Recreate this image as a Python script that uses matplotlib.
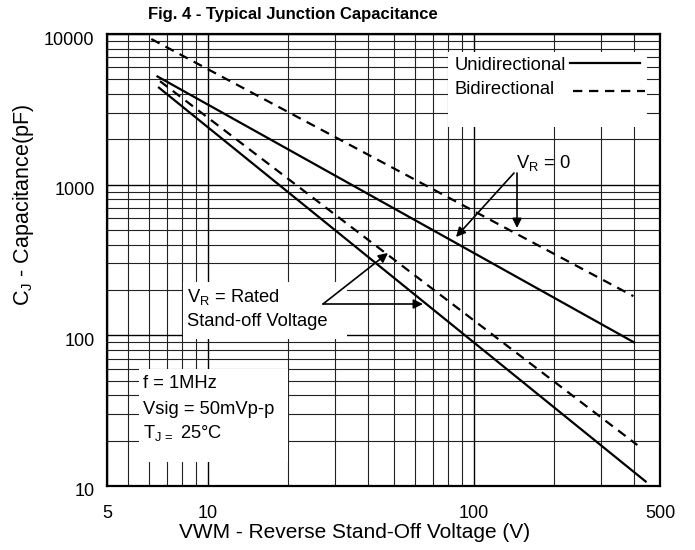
import numpy as np
import matplotlib
matplotlib.use("Agg")
import matplotlib.pyplot as plt
from matplotlib.ticker import LogLocator, NullFormatter, FixedLocator, FixedFormatter
from matplotlib.patches import Rectangle
from matplotlib.lines import Line2D
from matplotlib.transforms import ScaledTranslation

plt.rcParams['font.family'] = ['Liberation Sans', 'DejaVu Sans']
plt.rcParams['mathtext.fontset'] = 'custom'
plt.rcParams['mathtext.rm'] = 'Liberation Sans'
plt.rcParams['mathtext.it'] = 'Liberation Sans'

# ---- data ----
uni_v0_x = [6.40, 403]
uni_v0_c = [5270, 89]
uni_rated_x = [6.49, 445]
uni_rated_c = [4450, 10.6]
bi_v0_x = [6.12, 397]
bi_v0_c = [9260, 182]
bi_rated_x = [6.6, 411]
bi_rated_c = [4860, 18.7]

x_tick_vals = [4.17, 10, 100, 500]
x_tick_labels = ['5', '10', '100', '500']
y_tick_vals = [10, 100, 1000, 10000]
y_tick_labels = ['10', '100', '1000', '10000']

W, H = 695, 550
fig = plt.figure(figsize=(W / 100, H / 100), dpi=100)
L, R, T, B = 107, 660, 34, 486
ax = fig.add_axes([L / W, 1 - B / H, (R - L) / W, (B - T) / H])
ax.set_xscale('log')
ax.set_yscale('log')
ax.set_xlim(4.17, 500)
ax.set_ylim(10, 10000)

# pixel -> data helpers (for annotation placement)
def PX(px):
    lx0, lx1 = np.log10(ax.get_xlim())
    return 10 ** (lx0 + (px - L) / (R - L) * (lx1 - lx0))

def PY(py):
    ly0, ly1 = np.log10(ax.get_ylim())
    return 10 ** (ly1 - (py - T) / (B - T) * (ly1 - ly0))

ax.xaxis.set_major_locator(FixedLocator(x_tick_vals))
ax.xaxis.set_major_formatter(FixedFormatter(x_tick_labels))
ax.xaxis.set_minor_locator(LogLocator(base=10, subs=np.arange(2, 10)))
ax.xaxis.set_minor_formatter(NullFormatter())
ax.yaxis.set_major_locator(FixedLocator(y_tick_vals))
ax.yaxis.set_major_formatter(FixedFormatter(y_tick_labels))
ax.yaxis.set_minor_locator(LogLocator(base=10, subs=np.arange(2, 10)))
ax.yaxis.set_minor_formatter(NullFormatter())

ax.tick_params(which='both', length=0)
ax.tick_params(axis='x', pad=14, labelsize=13)
ax.tick_params(axis='y', pad=9, labelsize=13)
for lab in ax.get_yticklabels():
    lab.set_transform(lab.get_transform() + ScaledTranslation(0, -4 / 100, fig.dpi_scale_trans))

ax.set_axisbelow(True)
ax.grid(which='minor', color='#222222', lw=0.8)
ax.grid(which='major', color='black', lw=1.0)
for s in ax.spines.values():
    s.set_linewidth(1.6)
    s.set_color('black')

# white boxes covering the grid
def wbox(x0, y0, x1, y1):
    ax.add_patch(Rectangle((PX(x0), PY(y1)), PX(x1) - PX(x0), PY(y0) - PY(y1),
                           facecolor='white', edgecolor='none', zorder=1))

wbox(448, 52, 647, 127)    # legend
wbox(183, 282, 347, 339)   # rated label
wbox(139, 369, 288, 462)   # conditions

# data lines
ax.plot(uni_v0_x, uni_v0_c, color='black', lw=1.6, solid_capstyle='butt', zorder=3)
ax.plot(uni_rated_x, uni_rated_c, color='black', lw=1.6, solid_capstyle='butt', zorder=3)
ax.plot(bi_v0_x, bi_v0_c, color='black', lw=1.6, ls=(0, (4.2, 3.0)), zorder=3)
ax.plot(bi_rated_x, bi_rated_c, color='black', lw=1.6, ls=(0, (4.2, 3.0)), zorder=3)

# legend (text on the left, line on the right)
fs = 13.2
ax.text(PX(455), PY(65), 'Unidirectional', fontsize=fs, ha='left', va='center', zorder=4)
ax.text(PX(455), PY(89), 'Bidirectional', fontsize=fs, ha='left', va='center', zorder=4)
ax.add_line(Line2D([PX(570), PX(640)], [PY(62.5), PY(62.5)], color='black', lw=1.6, zorder=4))
ax.add_line(Line2D([PX(573), PX(645)], [PY(90.5), PY(90.5)], color='black', lw=1.6,
                   ls=(0, (4.2, 3.0)), zorder=4))

# V_R = 0 annotation
ax.text(PX(516), PY(163), r'V$_\mathrm{R}$ = 0', fontsize=fs, ha='left', va='center', zorder=4)
aprops = dict(arrowstyle='-|>', color='black', lw=1.2, mutation_scale=14, shrinkA=0, shrinkB=0)
ax.annotate('', xy=(PX(456), PY(237)), xytext=(PX(514), PY(173)), arrowprops=aprops, zorder=4)
ax.annotate('', xy=(PX(517), PY(228)), xytext=(PX(517), PY(173)), arrowprops=aprops, zorder=4)

# V_R = Rated annotation
ax.text(PX(187), PY(297), r'V$_\mathrm{R}$ = Rated', fontsize=fs, ha='left', va='center', zorder=4)
ax.text(PX(187), PY(322), 'Stand-off Voltage', fontsize=fs, ha='left', va='center', zorder=4)
ax.annotate('', xy=(PX(388), PY(253)), xytext=(PX(323), PY(304)), arrowprops=aprops, zorder=4)
ax.annotate('', xy=(PX(423), PY(304)), xytext=(PX(323), PY(304)), arrowprops=aprops, zorder=4)

# conditions
ax.text(PX(143), PY(384), 'f = 1MHz', fontsize=fs, ha='left', va='center', zorder=4)
ax.text(PX(143), PY(409), 'Vsig = 50mVp-p', fontsize=fs, ha='left', va='center', zorder=4)
ax.text(PX(143), PY(433), r'T$_\mathrm{J\,=}$ 25°C', fontsize=fs, ha='left', va='center', zorder=4)

# titles / labels
fig.text(148 / W, 1 - 14 / H, 'Fig. 4 - Typical Junction Capacitance', fontsize=12,
         fontweight='bold', ha='left', va='center')
fig.text(355 / W, 1 - 533 / H, 'VWM - Reverse Stand-Off Voltage (V)', fontsize=15,
         ha='center', va='center')
fig.text(24 / W, 1 - 205 / H, r'C$_\mathrm{J}$ - Capacitance(pF)', fontsize=15.5,
         ha='center', va='center', rotation=90)

fig.savefig('out.png', dpi=100)
